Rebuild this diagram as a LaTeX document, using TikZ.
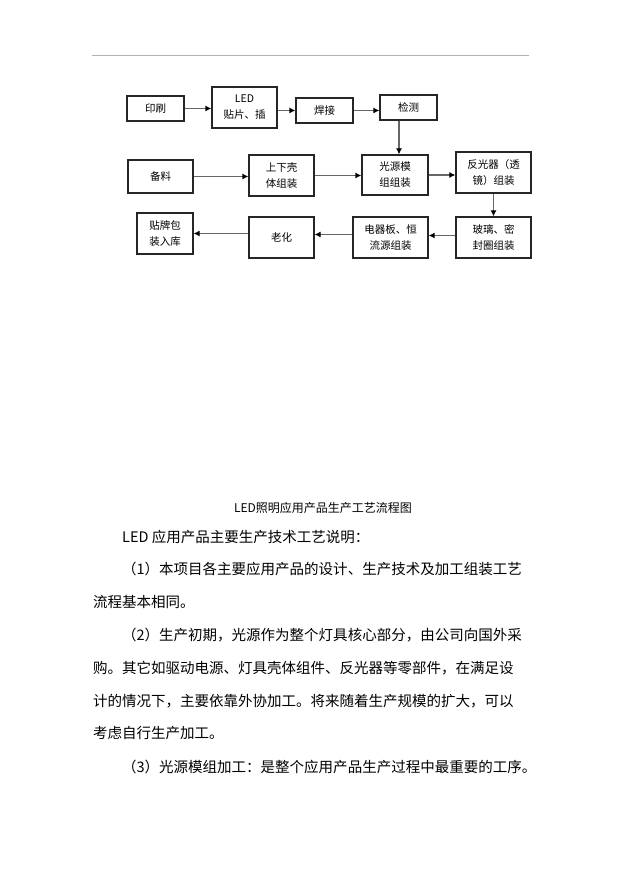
\documentclass[tikz,border=0pt]{standalone}
\usepackage{fontspec}
\setmainfont{Noto Sans CJK SC}
\usetikzlibrary{arrows.meta}
\begin{document}
\begin{tikzpicture}[x=1pt,y=-1pt,
  box/.style={draw=black!85, line width=1.2pt, inner sep=0pt, align=center,
    font=\fontsize{10.5}{16}\selectfont},
  flow/.style={draw=black!60, line width=1.8pt, -{Latex[length=6pt,width=6pt,color=black]}},
  txt/.style={inner sep=0pt, anchor=west, font=\fontsize{14.5}{16}\selectfont}]
\useasboundingbox[fill=white] (0,0) rectangle (621,877);
\draw[black!30, line width=1pt] (92,56) -- (529,56);
% row 1
\node[box, minimum width=57pt, minimum height=25pt] (yinshua) at (155.5,108.5) {印刷};
\node[box, minimum width=65pt, minimum height=41pt] (led) at (244.5,107.5) {LED\\贴片、插};
\node[box, minimum width=57pt, minimum height=25pt] (hanjie) at (324.5,110.5) {焊接};
\node[box, minimum width=57pt, minimum height=25pt] (jiance) at (408.5,107.5) {检测};
% row 2
\node[box, minimum width=65pt, minimum height=33pt] (beiliao) at (160.5,176.5) {备料};
\node[box, minimum width=65pt, minimum height=41pt] (shangxia) at (281.5,175.5) {上下壳\\体组装};
\node[box, minimum width=66pt, minimum height=40pt] (guangyuan) at (395,175) {光源模\\组组装};
\node[box, minimum width=75pt, minimum height=41pt] (fanguang) at (493.5,172.5) {反光器（透\\镜）组装};
% row 3
\node[box, minimum width=56pt, minimum height=41pt] (tiepai) at (165,233.5) {贴牌包\\装入库};
\node[box, minimum width=65pt, minimum height=41pt] (laohua) at (281.5,237.5) {老化};
\node[box, minimum width=75pt, minimum height=41pt] (dianqi) at (390.5,237.5) {电器板、恒\\流源组装};
\node[box, minimum width=75pt, minimum height=41pt] (boli) at (493.5,237.5) {玻璃、密\\封圈组装};
% connectors
\draw[flow] (yinshua.east) -- (yinshua.east -| led.west);
\draw[flow] (led.east |- hanjie.west) -- (hanjie.west);
\draw[flow] (hanjie.east) -- (hanjie.east -| jiance.west);
\draw[flow] ([xshift=-9.5pt]jiance.south) -- ([xshift=-9.5pt]jiance.south |- guangyuan.north);
\draw[flow] (beiliao.east) -- (beiliao.east -| shangxia.west);
\draw[flow] (shangxia.east) -- (shangxia.east -| guangyuan.west);
\draw[flow] (guangyuan.east) -- (guangyuan.east -| fanguang.west);
\draw[flow] (fanguang.south) -- (boli.north);
\draw[flow] ([yshift=2pt]boli.west) -- ([yshift=2pt]boli.west -| dianqi.east);
\draw[flow] ([yshift=3pt]dianqi.west) -- ([yshift=3pt]dianqi.west -| laohua.east);
\draw[flow] (laohua.west |- tiepai.east) -- (tiepai.east);
% caption and text
\node[inner sep=0pt, font=\fontsize{12}{14}\selectfont] (title) at (323,508) {LED照明应用产品生产工艺流程图};
\node[txt] (l1) at (122,537) {LED 应用产品主要生产技术工艺说明：};
\node[txt] (l2) at (122,569) {（1）本项目各主要应用产品的设计、生产技术及加工组装工艺};
\node[txt] (l3) at (93,602) {流程基本相同。};
\node[txt] (l4) at (122,635) {（2）生产初期，光源作为整个灯具核心部分，由公司向国外采};
\node[txt] (l5) at (93,668) {购。其它如驱动电源、灯具壳体组件、反光器等零部件，在满足设};
\node[txt] (l6) at (93,701) {计的情况下，主要依靠外协加工。将来随着生产规模的扩大，可以};
\node[txt] (l7) at (93,733) {考虑自行生产加工。};
\node[txt] (l8) at (122,767) {（3）光源模组加工：是整个应用产品生产过程中最重要的工序。};
\end{tikzpicture}
\end{document}
